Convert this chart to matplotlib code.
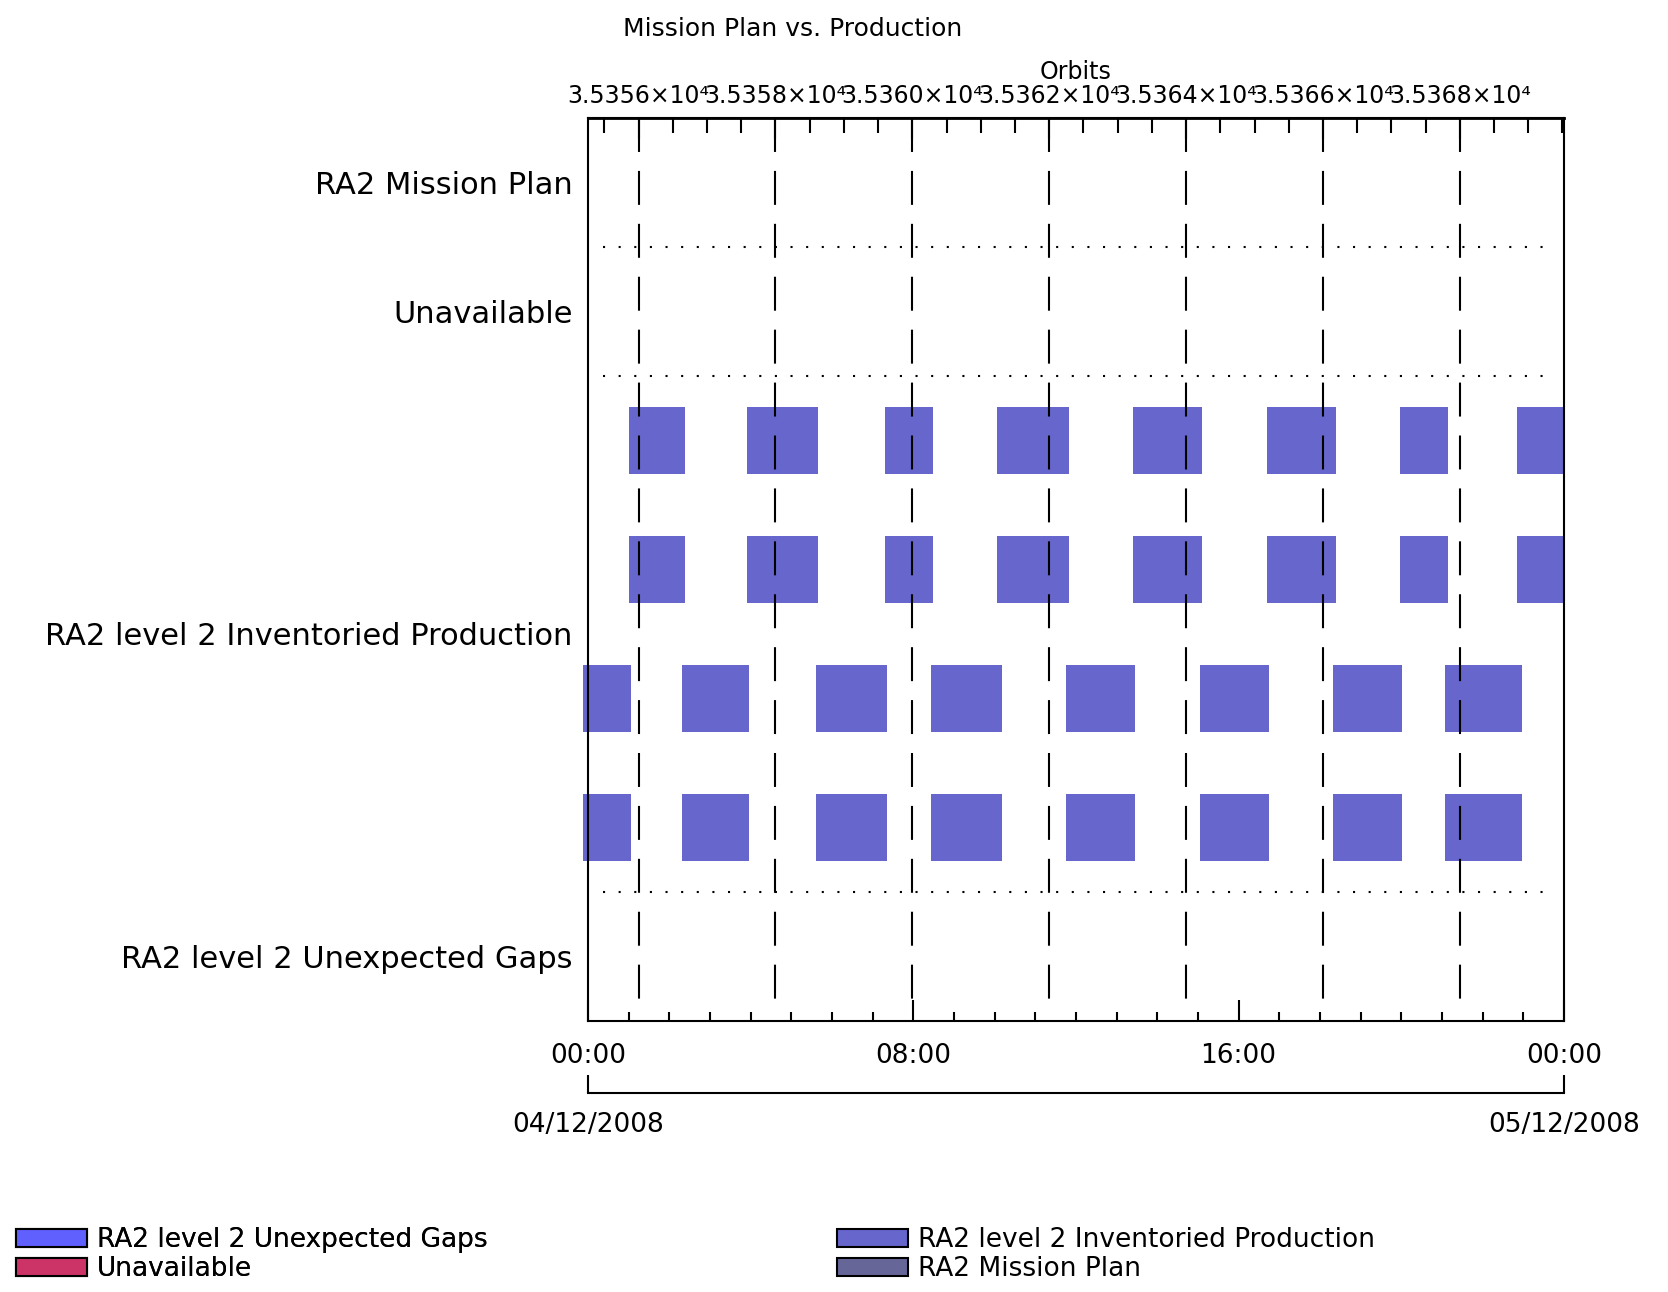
import matplotlib
matplotlib.use("Agg")
import matplotlib.pyplot as plt
from matplotlib.patches import Patch
from matplotlib.ticker import FixedLocator, MultipleLocator, FuncFormatter

# ---------------- data ----------------
categories = ["RA2 level 2 Unexpected Gaps", "RA2 level 2 Inventoried Production",
              "Unavailable", "RA2 Mission Plan"]
category_y = [0.5, 3.0, 5.5, 6.5]
separators_y = [1, 5, 6]

# production passes (hours since 04/12/2008 00:00)
prod_start_a = [1.01, 3.91, 7.30, 10.07, 13.41, 16.69, 19.97, 22.85]
prod_end_a = [2.39, 5.65, 8.48, 11.83, 15.11, 18.39, 21.14, 24.00]
prod_start_b = [-0.11, 2.32, 5.61, 8.43, 11.76, 15.05, 18.33, 21.08]
prod_end_b = [1.07, 3.95, 7.36, 10.18, 13.46, 16.75, 20.03, 22.98]
prod_rows = [4.5, 3.5, 2.5, 1.5]
prod_sets = [(prod_start_a, prod_end_a), (prod_start_a, prod_end_a),
             (prod_start_b, prod_end_b), (prod_start_b, prod_end_b)]

time_ticks = [0, 8, 16, 24]
time_labels = ["00:00", "08:00", "16:00", "00:00"]
date_ticks = [0, 24]
date_labels = ["04/12/2008", "05/12/2008"]

orbit_ticks = [35356, 35358, 35360, 35362, 35364, 35366, 35368]
orbit_ref = 35356
orbit_ref_hour = 1.244
orbit_period_h = 1.683

legend_left = ["RA2 level 2 Unexpected Gaps", "Unavailable"]
legend_left_colors = ["#6060FF", "#CC3366"]
legend_right = ["RA2 level 2 Inventoried Production", "RA2 Mission Plan"]
legend_right_colors = ["#6666CC", "#666699"]
prod_color = "#6666CC"


def h2o(h):
    return orbit_ref + (h - orbit_ref_hour) / orbit_period_h


def o2h(o):
    return orbit_ref_hour + (o - orbit_ref) * orbit_period_h


# ---------------- figure ----------------
fig = plt.figure(figsize=(16.68, 12.92), dpi=100)
ax = fig.add_axes([0.3525, 0.2098, 0.5851, 0.6989])
ax.set_xlim(0, 24)
ax.set_ylim(0, 7)

for y, (st, en) in zip(prod_rows, prod_sets):
    ax.barh([y] * len(st), [e - s for s, e in zip(st, en)], left=st, height=0.52,
            color=prod_color, edgecolor="none", clip_on=False, zorder=2)

for o in orbit_ticks:
    h = o2h(o)
    ax.plot([h, h], [7, 0.12], color="black", lw=1.5,
            linestyle=(0, (16.3, 9.1)), zorder=3)

for y in separators_y:
    ax.axhline(y, xmin=0.015, xmax=0.984, color="black", lw=1.5,
               linestyle=(0, (1, 6.5)), zorder=3)

for s in ax.spines.values():
    s.set_linewidth(1.5)

ax.set_yticks(category_y)
ax.set_yticklabels(categories, fontsize=22)
ax.tick_params(axis="y", length=0, pad=11)

ax.xaxis.set_major_locator(FixedLocator(time_ticks))
ax.set_xticklabels(time_labels, fontsize=19)
ax.xaxis.set_minor_locator(MultipleLocator(1))
ax.tick_params(axis="x", which="major", direction="in", length=15, width=1.5, pad=16)
ax.tick_params(axis="x", which="minor", direction="in", length=6.5, width=1.5)

# top orbit axis
sec = ax.secondary_xaxis("top", functions=(h2o, o2h))
sec.xaxis.set_major_locator(FixedLocator(orbit_ticks))
sec.xaxis.set_minor_locator(MultipleLocator(0.5))
sec.xaxis.set_major_formatter(FuncFormatter(lambda v, p: f"{v / 1e4:.4f}\u00d710\u2074"))
sec.tick_params(axis="x", which="major", direction="in", length=15, width=1.5,
                labelsize=17, pad=7)
sec.tick_params(axis="x", which="minor", direction="in", length=11, width=1.5)
sec.set_xlabel("Orbits", fontsize=17, labelpad=4)
sec.spines["top"].set_linewidth(2)

# date bracket axis
dax = ax.secondary_xaxis(-0.0797)
dax.set_xticks(date_ticks)
dax.set_xticklabels(date_labels, fontsize=19)
dax.tick_params(axis="x", direction="in", length=13, width=1.5, pad=14)
dax.spines["bottom"].set_linewidth(1.5)

fig.text(0.4754, 0.9776, "Mission Plan vs. Production", fontsize=18,
         ha="center", va="center")

kw = dict(frameon=False, fontsize=19, handlelength=2.69, handleheight=0.68,
          handletextpad=0.38, labelspacing=0.1, borderpad=0, borderaxespad=0,
          loc="upper left")
h_left = [Patch(facecolor=c, edgecolor="black", lw=1.5) for c in legend_left_colors]
h_right = [Patch(facecolor=c, edgecolor="black", lw=1.5) for c in legend_right_colors]
leg1 = fig.legend(h_left, legend_left, bbox_to_anchor=(0.0096, 0.050), **kw)
fig.add_artist(leg1)
fig.legend(h_right, legend_right, bbox_to_anchor=(0.5018, 0.050), **kw)

fig.savefig("out.png", dpi=100)
